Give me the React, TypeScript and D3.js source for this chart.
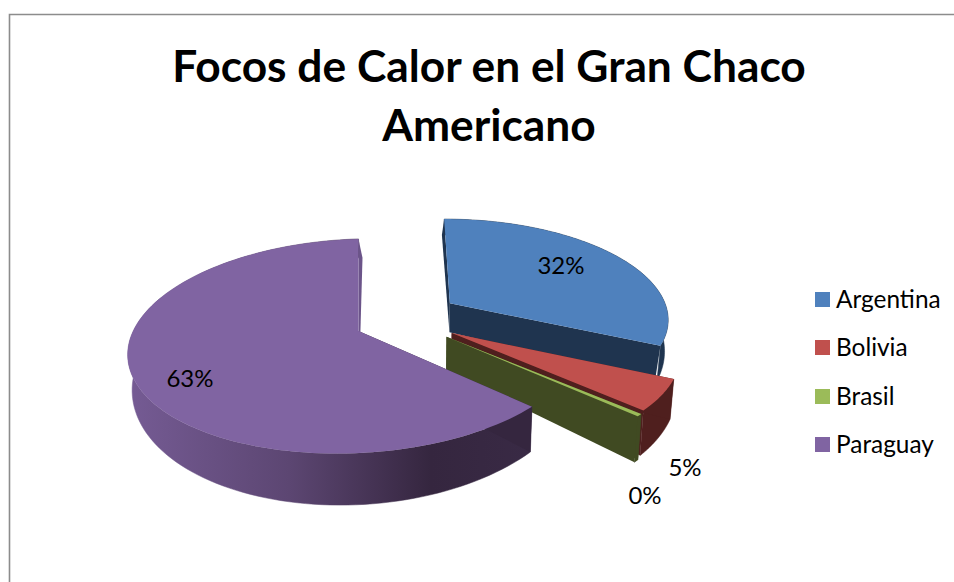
import React from "react";
import * as d3 from "d3";

// Hot-spot shares per country
const countries = ["Argentina", "Bolivia", "Brasil", "Paraguay"];
const shares = [32, 5, 0.4, 63];

const titleLines = ["Focos de Calor en el Gran Chaco", "Americano"];

// Colours per country: top face, flat side wall, end wall
const topColors = ["#4f81bd", "#c0504d", "#9bbb59", "#8064a2"];
const wallColors = ["#1f344f", "#4f1f1e", "#404a22", "#35263f"];
const closingWallColors = ["#1f344f", "#4f1f1e", "#404a22", "#6b5489"];

// How far each wedge is pulled out of the pie (disc units) and in which direction (degrees, clockwise from up)
const pullAmount = [0.495, 0.405, 0.384, 0];
const pullAngle = [56.5, 92.8, 98.2, 0];
// Rim proportions, tilt and sideways drift of each wedge
const rimU = [0.965, 0.975, 0.99, 0.98];
const rimV = [0.98, 0.98, 0.97, 1];
const rimTilt = [0, 0, 0, 7];
const rimDriftA = [0.018, 0, 0, 0.013];
const rimDriftB = [0.0077, 0, 0, -0.013];
// Horizontal lean of the rim end of each wedge's side walls
const sideLean = [-2, 0, 0, 3];

// Value label anchors
const labelX = [561, 685, 645, 190];
const labelY = [274, 476, 504, 387];

const legendRowY = [299.5, 347.5, 396.5, 444.5];

const W = 954;
const H = 582;
const cx = 358.5;
const cy = 331;
const Rx = 229.7;
const persp = 0.14;

// Perspective projection of a point on the disc plane, for the top and the bottom faces
const topFace = (u: number, v: number, tilt = 0): [number, number] => {
  const s = 1 / (1 - persp * v);
  return [cx + Rx * u * s, cy + (105 * v - tilt * u) * s];
};
const bottomFace = (u: number, v: number, tilt = 0): [number, number] => {
  const s = 1 / (1 - persp * v);
  return [cx + 1 + 0.985 * Rx * u * s, cy + 33 + (121 * v - tilt * u) * s];
};

const poly = d3.line<[number, number]>();

const pie = d3
  .pie<number>()
  .sort(null)
  .startAngle(0)
  .endAngle(2 * Math.PI);

export default function App() {
  const arcs = pie(shares);

  const shapes = arcs.map((a, i) => {
    const dir = (pullAngle[i] * Math.PI) / 180;
    const ou = pullAmount[i] * Math.sin(dir);
    const ov = -pullAmount[i] * Math.cos(dir);
    const rim = d3
      .range(0, 121)
      .map((k) => a.startAngle + ((a.endAngle - a.startAngle) * k) / 120)
      .map(
        (t) =>
          [
            ou + rimU[i] * Math.sin(t) + rimDriftA[i] * Math.cos(t) + rimDriftB[i],
            ov - rimV[i] * Math.cos(t),
          ] as [number, number]
      );
    const topRim = rim.map(([u, v]) => topFace(u, v, rimTilt[i]));
    const botRim = rim.map(([u, v]) => bottomFace(u, v, rimTilt[i]));
    const tipTop = topFace(ou, ov);
    const tipBot = bottomFace(ou, ov);
    const lean = (p: [number, number]): [number, number] => [p[0] + sideLean[i], p[1]];

    return {
      top: poly([tipTop, ...topRim])! + "Z",
      outer: poly([...topRim, ...botRim.slice().reverse()])! + "Z",
      sideA: poly([tipTop, topRim[0], botRim[0], tipBot])! + "Z",
      sideB: poly([tipTop, topRim[120], lean(botRim[120]), tipBot])! + "Z",
      sideA0: poly([tipTop, topRim[0], lean(botRim[0]), tipBot])! + "Z",
    };
  });

  const outerFill = (i: number) => (i === 3 ? "url(#paraguayWall)" : wallColors[i]);

  return (
    <svg
      width={W}
      height={H}
      viewBox={`0 0 ${W} ${H}`}
      style={{ position: "fixed", left: 0, top: 0, background: "#fff" }}
    >
      <defs>
        <linearGradient id="paraguayWall" gradientUnits="userSpaceOnUse" x1={128} x2={532} y1={0} y2={0}>
          <stop offset="0" stopColor="#755b94" />
          <stop offset="0.4" stopColor="#5c4672" />
          <stop offset="0.75" stopColor="#35263f" />
          <stop offset="1" stopColor="#392a45" />
        </linearGradient>
      </defs>

      <path d={`M9.5,${H}V14.5H${W}`} fill="none" stroke="#8c8c8c" strokeWidth={1.6} />

      <g fontFamily="Lato, 'Noto Sans', sans-serif" fontWeight={700} fontSize={44.3} textAnchor="middle" fill="#000">
        {titleLines.map((line, i) => (
          <text key={line} x={489} y={81.5 + i * 59}>
            {line}
          </text>
        ))}
      </g>

      {shapes.map((s, i) => (
        <g key={countries[i]}>
          <path d={s.outer} fill={outerFill(i)} stroke={outerFill(i)} strokeWidth={0.5} />
          <path d={i === 0 ? s.sideA0 : s.sideA} fill={wallColors[i]} />
          <path d={s.sideB} fill={closingWallColors[i]} />
          <path d={s.top} fill={topColors[i]} />
        </g>
      ))}

      <g fontFamily="Lato, 'Noto Sans', sans-serif" fontSize={24} textAnchor="middle" fill="#000">
        {shares.map((v, i) => (
          <text key={countries[i]} x={labelX[i]} y={labelY[i]}>
            {`${Math.round(v)}%`}
          </text>
        ))}
      </g>

      <g fontFamily="Lato, 'Noto Sans', sans-serif" fontSize={24.4} fill="#000">
        {countries.map((c, i) => (
          <g key={c}>
            <rect x={815} y={legendRowY[i] - 7.5} width={15} height={15} fill={topColors[i]} />
            <text x={836} y={legendRowY[i] + 8}>
              {c}
            </text>
          </g>
        ))}
      </g>
    </svg>
  );
}
